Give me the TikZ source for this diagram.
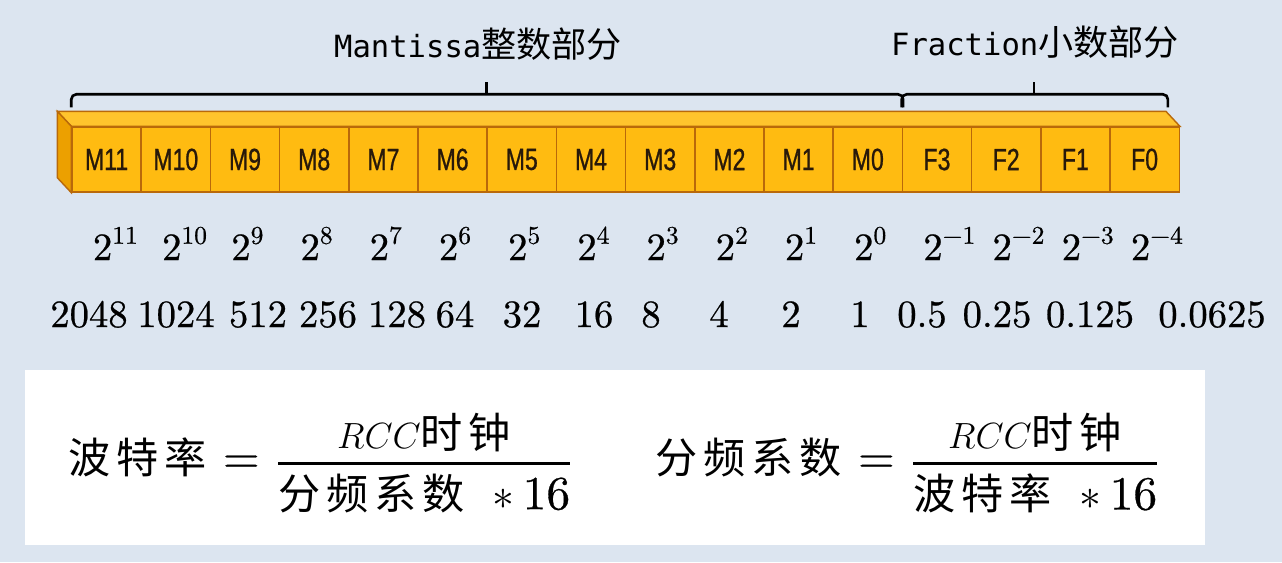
\documentclass[tikz,border=0pt]{standalone}
\usepackage{fontspec}
\newfontfamily\cjk{Noto Sans CJK SC}
\newfontfamily\cjkwide[LetterSpace=14]{Noto Sans CJK SC}
\newfontfamily\headmono{DejaVu Sans Mono}
\newfontfamily\cellfont[FakeStretch=0.75,FakeBold=0.8]{Liberation Sans}
\newfontfamily\numfont[FakeBold=0.6]{lmroman10-regular.otf}
\usetikzlibrary{positioning}

\definecolor{bgblue}{RGB}{220,229,240}
\definecolor{cellfill}{RGB}{255,187,17}
\definecolor{celltop}{RGB}{255,196,45}
\definecolor{cellside}{RGB}{236,160,0}
\definecolor{cellline}{RGB}{185,105,10}
\definecolor{celltext}{RGB}{40,25,10}

\newcommand\pw[1]{2\raisebox{0.42em}{\fontsize{14.5}{14}\selectfont #1}}
\newcommand\zh[1]{\mbox{\fontsize{24}{28}\selectfont\cjkwide #1}}
\newcommand\mnum[1]{\mbox{\numfont\fontsize{27}{30}\selectfont #1}}
\newcommand\bigast{\mathbin{\mbox{\fontsize{28}{28}\selectfont$\ast$}}}

\tikzset{
  cell/.style={draw=cellline,line width=0.8pt,fill=cellfill,minimum width=1.384cm,
    minimum height=1.3cm,inner sep=0pt,text=celltext,font=\cellfont\fontsize{17.5}{18}\selectfont},
  bracket/.style={line width=1.5pt,rounded corners=0.1cm},
  head/.style={anchor=base,inner sep=0pt},
  num/.style={font=\numfont\fontsize{22}{26}\selectfont,inner sep=0pt},
  formula/.style={font=\fontsize{20.74}{26}\selectfont,inner sep=0pt,anchor=base west}
}

\begin{document}
\begin{tikzpicture}[x=0.02cm,y=-0.02cm]
\fill[bgblue] (0,0) rectangle (1282,562);
% register cells
\foreach \l [count=\i from 0] in {M11,M10,M9,M8,M7,M6,M5,M4,M3,M2,M1,M0,F3,F2,F1,F0}
  \node[cell] (\l) at ({106.6+69.2*\i},159.5) {\l};
% 3d faces
\filldraw[fill=celltop,draw=cellline,line width=0.8pt] (M11.north west) -- ++(-14,-15)
  -- ([shift={(-14,-15)}]F0.north east) -- (F0.north east) -- cycle;
\filldraw[fill=cellside,draw=cellline,line width=0.8pt] (M11.north west) -- ++(-14,-15)
  -- ([shift={(-14,-15)}]M11.south west) -- (M11.south west) -- cycle;
% braces
\draw[bracket] ([yshift=0.38cm]M11.north west) |- ([yshift=0.64cm]M0.north east) -- ([yshift=0.38cm]M0.north east);
\draw[bracket] ([yshift=0.64cm]M5.north west) -- ++(0,-12);
\draw[bracket] ([yshift=0.38cm]F3.north west) |- ([xshift=-0.24cm,yshift=0.64cm]F0.north east) -- ([xshift=-0.24cm,yshift=0.38cm]F0.north east);
\draw[bracket] ([xshift=-0.12cm,yshift=0.64cm]F1.north west) -- ++(0,-12);
\node[head] (mant) at (478,57) {\headmono\fontsize{17.4}{20}\selectfont Mantissa\cjk\fontsize{20}{24}\selectfont 整数部分};
\node[head] (frac) at (1035,55) {\headmono\fontsize{17.4}{20}\selectfont Fraction\cjk\fontsize{20}{24}\selectfont 小数部分};
% weights
\foreach \e [count=\i from 0] in {11,10,9,8,7,6,5,4,3,2,1,0,−1,−2,−3,−4}
  \node[num,anchor=base west] (p\i) at ({92.6+69.2*\i},260) {\pw{\e}};
\foreach \val/\x [count=\i from 0] in {2048/89,1024/176,512/258,256/328,128/397,64/455,32/522,16/594,
    8/651,4/719,2/791,1/860,0.5/922,0.25/997,0.125/1090,0.0625/1212}
  \node[num,anchor=base] (v\i) at (\x,327) {\val};
% formulas
\fill[white] (25,370) rectangle (1205,545);
\node[formula] (baud) at (68,473) {$\zh{波特率}\,\mathrel{\mnum{=}}\,\displaystyle{RCC\zh{时钟}\above1.6pt\zh{分频系数}\;\;\bigast\mnum{16}}$};
\node[formula] (divf) at (655,473) {$\zh{分频系数}\,\mathrel{\mnum{=}}\,\displaystyle{RCC\zh{时钟}\above1.6pt\zh{波特率}\;\;\bigast\mnum{16}}$};
\end{tikzpicture}
\end{document}
